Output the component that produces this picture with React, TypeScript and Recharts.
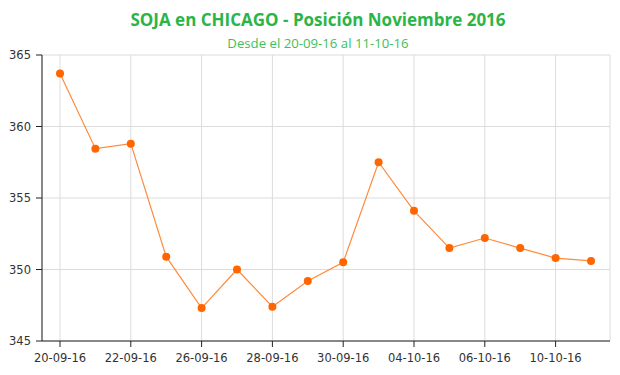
import { LineChart, Line, XAxis, YAxis, CartesianGrid } from "recharts";

const fechas = [
  "20-09-16", "21-09-16", "22-09-16", "23-09-16", "26-09-16", "27-09-16",
  "28-09-16", "29-09-16", "30-09-16", "03-10-16", "04-10-16", "05-10-16",
  "06-10-16", "07-10-16", "10-10-16", "11-10-16",
];
const precios = [
  363.7, 358.45, 358.8, 350.9, 347.3, 350.0, 347.4, 349.2,
  350.5, 357.5, 354.1, 351.5, 352.2, 351.5, 350.8, 350.6,
];
const yTicks = [345, 350, 355, 360, 365];

const data = fechas.map((fecha, i) => ({ fecha, precio: precios[i] }));

const tickStyle = { fill: "#333", fontSize: 11.5, fontFamily: "DejaVu Sans" };

const App = () => {
  return (
    <div style={{ position: "absolute", left: 0, top: 0, width: 620, height: 375, background: "#fff" }}>
      {/* Título */}
      <div
        style={{
          position: "absolute",
          top: 8,
          width: 620,
          textAlign: "center",
          fontFamily: "'Open Sans'",
          fontWeight: 700,
          fontSize: 17,
          color: "#2bb548",
          paddingLeft: 16,
          boxSizing: "border-box",
        }}
      >
        SOJA en CHICAGO - Posición Noviembre 2016
      </div>
      <div
        style={{
          position: "absolute",
          top: 34,
          width: 620,
          textAlign: "center",
          fontFamily: "'Open Sans'",
          fontSize: 13.2,
          color: "#3cc15a",
          paddingLeft: 16,
          boxSizing: "border-box",
        }}
      >
        Desde el 20-09-16 al 11-10-16
      </div>

      <LineChart
        width={620}
        height={375}
        data={data}
        margin={{ top: 55, right: 10, bottom: 4, left: 0 }}
      >
        <CartesianGrid stroke="#dcdcdc" />
        <XAxis
          dataKey="fecha"
          interval={1}
          height={30}
          padding={{ left: 18, right: 19 }}
          tick={tickStyle}
          tickSize={6}
          tickMargin={7}
          axisLine={{ stroke: "#222" }}
          tickLine={{ stroke: "#222" }}
        />
        <YAxis
          domain={[345, 365]}
          ticks={yTicks}
          width={42}
          tick={tickStyle}
          tickSize={6}
          tickMargin={5}
          axisLine={{ stroke: "#222" }}
          tickLine={{ stroke: "#222" }}
        />
        <Line
          dataKey="precio"
          type="linear"
          stroke="#ff8a3d"
          strokeWidth={1.2}
          dot={{ r: 4, fill: "#ff6600", stroke: "none" }}
          isAnimationActive={false}
        />
      </LineChart>
    </div>
  );
};

export default App;
